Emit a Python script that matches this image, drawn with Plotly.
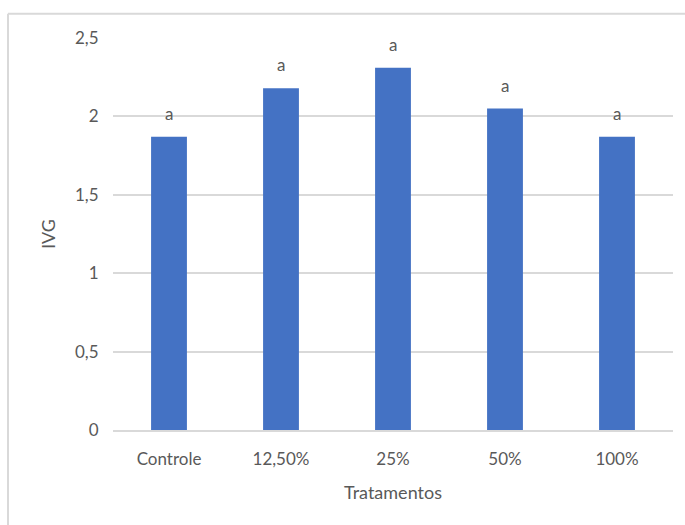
import plotly.graph_objects as go

# Germination speed index (IVG) per treatment
tratamentos = ["Controle", "12,50%", "25%", "50%", "100%"]
ivg = [1.87, 2.18, 2.31, 2.05, 1.87]
letras = ["a", "a", "a", "a", "a"]

text_color = "#595959"
grid_color = "#d9d9d9"
font_family = "Lato, 'Open Sans', sans-serif"

fig = go.Figure()
fig.add_trace(go.Bar(
    x=tratamentos,
    y=ivg,
    marker=dict(color="#4472C4", line=dict(width=0)),
    hoverinfo="x+y",
))

# significance letters above each bar
for cat, val, letra in zip(tratamentos, ivg, letras):
    fig.add_annotation(
        x=cat, y=val, text=letra, showarrow=False,
        yanchor="bottom", yshift=11,
        font=dict(family=font_family, size=17, color=text_color),
    )

# light chart-area frame (top and left edges)
fig.add_shape(type="line", xref="paper", yref="paper",
              x0=-0.1875, x1=1.1, y0=1.062, y1=1.062,
              line=dict(color=grid_color, width=2))
fig.add_shape(type="line", xref="paper", yref="paper",
              x0=-0.1875, x1=-0.1875, y0=-0.3, y1=1.062,
              line=dict(color=grid_color, width=2))

fig.update_layout(
    width=685, height=525,
    margin=dict(l=113, r=12, t=38, b=95),
    paper_bgcolor="white",
    plot_bgcolor="white",
    bargap=0.68,
    separators=",.",
    showlegend=False,
    font=dict(family=font_family, size=17, color=text_color),
    xaxis=dict(
        title=dict(text="Tratamentos", font=dict(size=18, color=text_color), standoff=18),
        showgrid=False,
        showline=True, linecolor=grid_color, linewidth=1.5,
        ticks="outside", ticklen=13, tickcolor="rgba(0,0,0,0)",
        tickfont=dict(size=17, color=text_color),
    ),
    yaxis=dict(
        title=dict(text="IVG", font=dict(size=18, color=text_color), standoff=14),
        range=[0, 2.5], dtick=0.5,
        showgrid=True, gridcolor=grid_color, gridwidth=1.5,
        zeroline=False, showline=False,
        ticks="outside", ticklen=10, tickcolor="rgba(0,0,0,0)",
        tickfont=dict(size=17, color=text_color),
    ),
)

fig.write_html("out.html")
